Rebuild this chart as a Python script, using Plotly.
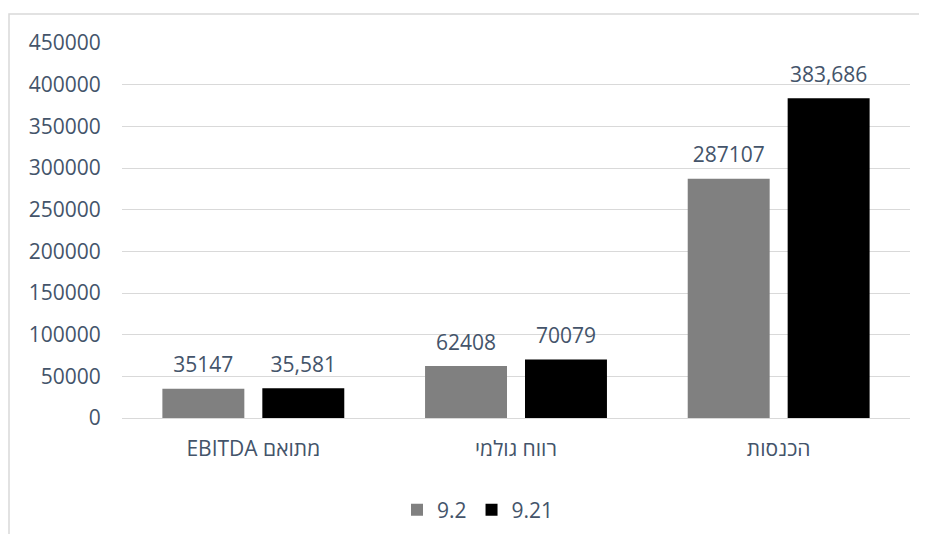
import plotly.graph_objects as go

categories = ["EBITDA מתואם", "רווח גולמי", "הכנסות"]
series_names = ["9.2", "9.21"]
values_92 = [35147, 62408, 287107]
values_921 = [35581, 70079, 383686]
labels_92 = ["35147", "62408", "287107"]
labels_921 = ["35,581", "70079", "383,686"]
y_ticks = [0, 50000, 100000, 150000, 200000, 250000, 300000, 350000, 400000, 450000]

FONT = "Open Sans"
TXT = "#44546A"
FS = 21
colors = ["#808080", "#000000"]

fig = go.Figure()
for name, vals, col in zip(series_names, [values_92, values_921], colors):
    fig.add_trace(go.Bar(
        name=name, x=categories, y=vals,
        marker=dict(color=col, line=dict(width=0)),
        offsetgroup=name, hoverinfo="skip",
    ))
for name, vals, labs in zip(series_names, [values_92, values_921], [labels_92, labels_921]):
    fig.add_trace(go.Scatter(
        x=categories, y=vals, text=labs, mode="markers+text",
        textposition="top center", cliponaxis=False, showlegend=False,
        offsetgroup=name,
        marker=dict(size=16, color="rgba(0,0,0,0)"),
        textfont=dict(family=FONT, size=FS, color=TXT),
    ))

# page body has an 8px margin; compensate so the screenshot lines up
OFF = 8
W, H = 927, 534
L, R, T, B = 122 - OFF, 17 + OFF, 43 - OFF, 116 + OFF
pw, ph = W - L - R, H - T - B

def px(x):
    return (x - OFF - L) / pw

def py(y):
    return (H - B - (y - OFF)) / ph

fig.update_layout(
    width=W, height=H,
    margin=dict(l=L, r=R, t=T, b=B),
    paper_bgcolor="white", plot_bgcolor="white",
    barmode="group", bargap=0.239, bargroupgap=0.18,
    scattermode="group", scattergap=0.239,
    font=dict(family=FONT, size=FS, color=TXT),
    showlegend=True,
    legend=dict(orientation="h", x=px(478), xanchor="center", y=py(510), yanchor="middle",
                font=dict(family=FONT, size=FS, color=TXT), itemwidth=30,
                traceorder="normal"),
    xaxis=dict(showgrid=False, showline=False, zeroline=False,
               ticks="outside", ticklen=12, tickcolor="rgba(0,0,0,0)",
               tickfont=dict(family=FONT, size=FS, color=TXT)),
    yaxis=dict(range=[0, 450000], tickvals=y_ticks, ticktext=[str(v) for v in y_ticks],
               showgrid=True, gridcolor="#D9D9D9", gridwidth=1,
               zeroline=True, zerolinecolor="#D9D9D9", zerolinewidth=1,
               showline=False, ticks="outside", ticklen=16, tickcolor="rgba(0,0,0,0)",
               tickfont=dict(family=FONT, size=FS, color=TXT)),
    shapes=[dict(type="rect", xref="paper", yref="paper",
                 x0=px(9), x1=px(940), y0=py(560), y1=py(14),
                 line=dict(color="#D9D9D9", width=1.5), fillcolor="rgba(0,0,0,0)", layer="below")],
)

fig.write_html("out.html")
